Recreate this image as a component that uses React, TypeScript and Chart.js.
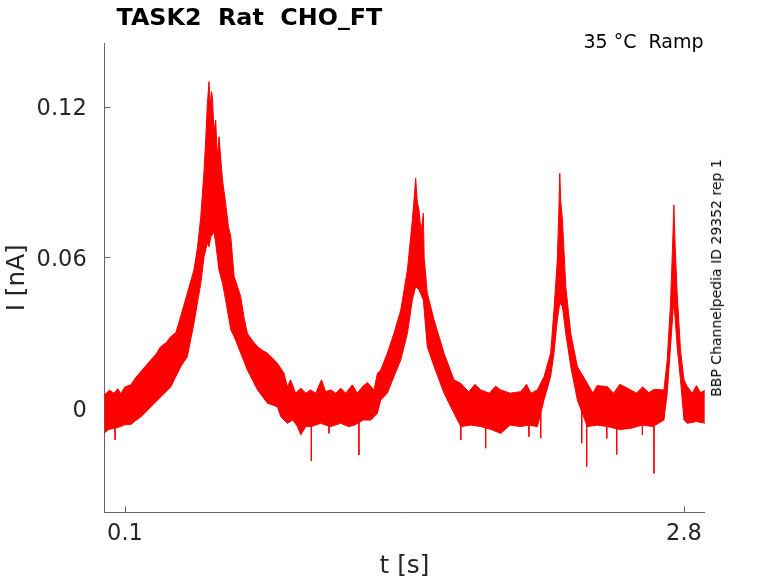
import { useEffect, useRef } from 'react';
import { Chart, registerables } from 'chart.js';

Chart.register(...registerables);

// axis ticks
const X_TICKS = [0.1, 2.8];
const Y_TICKS = [0, 0.06, 0.12];

// upper edge of the overlapping sweeps (t [s], I [nA])
const UPPER_T = [
  0.0, 0.025, 0.047, 0.065, 0.079, 0.1, 0.128, 0.15, 0.176, 0.2, 0.224, 0.25, 0.272, 0.3, 0.321, 0.345,
  0.369, 0.401, 0.433, 0.45, 0.466, 0.482, 0.49, 0.498, 0.506, 0.512, 0.518, 0.522, 0.53, 0.538, 0.546,
  0.554, 0.571, 0.586, 0.6, 0.611, 0.627, 0.645, 0.659, 0.675, 0.691, 0.715, 0.74, 0.765, 0.788, 0.812,
  0.836, 0.852, 0.868, 0.884, 0.9, 0.924, 0.949, 0.973, 0.997, 1.021, 1.049, 1.069, 1.094, 1.118, 1.142,
  1.166, 1.198, 1.222, 1.247, 1.271, 1.303, 1.319, 1.335, 1.367, 1.399, 1.432, 1.464, 1.488, 1.498,
  1.504, 1.512, 1.52, 1.53, 1.541, 1.545, 1.56, 1.593, 1.641, 1.689, 1.722, 1.76, 1.79, 1.818, 1.86,
  1.89, 1.915, 1.96, 2.011, 2.04, 2.06, 2.092, 2.124, 2.156, 2.172, 2.188, 2.196, 2.2, 2.205, 2.213,
  2.229, 2.253, 2.285, 2.333, 2.36, 2.38, 2.43, 2.46, 2.49, 2.543, 2.57, 2.6, 2.63, 2.655, 2.703, 2.719,
  2.735, 2.745, 2.751, 2.757, 2.767, 2.783, 2.8, 2.816, 2.84, 2.86, 2.88, 2.904,
];
const UPPER_I = [
  0.0053, 0.0072, 0.006, 0.0078, 0.0058, 0.0085, 0.0093, 0.012, 0.0146, 0.0168, 0.0192, 0.0215, 0.0245,
  0.0262, 0.0285, 0.03, 0.0365, 0.0458, 0.055, 0.064, 0.0762, 0.0948, 0.107, 0.1214, 0.13, 0.12, 0.126,
  0.124, 0.11, 0.1147, 0.1, 0.108, 0.0908, 0.0816, 0.072, 0.0683, 0.0524, 0.048, 0.0444, 0.036, 0.0298,
  0.027, 0.0245, 0.023, 0.0219, 0.02, 0.0179, 0.0159, 0.0139, 0.0086, 0.0113, 0.006, 0.008, 0.006,
  0.0073, 0.006, 0.0113, 0.0066, 0.0073, 0.006, 0.008, 0.006, 0.0093, 0.006, 0.0086, 0.0102, 0.0073,
  0.0139, 0.0152, 0.0219, 0.0298, 0.0391, 0.055, 0.0749, 0.085, 0.0915, 0.082, 0.0789, 0.07, 0.0776,
  0.06, 0.0458, 0.0351, 0.0219, 0.0113, 0.0099, 0.0065, 0.0095, 0.0073, 0.006, 0.0088, 0.0073, 0.006,
  0.0066, 0.0095, 0.006, 0.0073, 0.0126, 0.0219, 0.0391, 0.059, 0.08, 0.0935, 0.082, 0.0749, 0.0484,
  0.0298, 0.0166, 0.0099, 0.006, 0.009, 0.0086, 0.006, 0.0095, 0.0073, 0.006, 0.0085, 0.0062, 0.0075,
  0.0073, 0.0192, 0.0418, 0.065, 0.0809, 0.065, 0.0458, 0.0232, 0.0113, 0.0086, 0.006, 0.009, 0.0062,
  0.0073,
];

// lower edge of the overlapping sweeps
const LOWER_T = [
  0.0, 0.02, 0.047, 0.079, 0.1, 0.128, 0.15, 0.176, 0.224, 0.272, 0.321, 0.369, 0.401, 0.433, 0.466,
  0.482, 0.498, 0.506, 0.515, 0.53, 0.538, 0.554, 0.571, 0.586, 0.611, 0.627, 0.659, 0.691, 0.74, 0.788,
  0.836, 0.852, 0.884, 0.91, 0.933, 0.949, 0.973, 1.0, 1.045, 1.07, 1.094, 1.142, 1.18, 1.21, 1.25,
  1.287, 1.319, 1.335, 1.367, 1.399, 1.432, 1.464, 1.488, 1.504, 1.52, 1.541, 1.56, 1.593, 1.641, 1.689,
  1.722, 1.77, 1.818, 1.87, 1.915, 1.96, 2.011, 2.05, 2.092, 2.124, 2.156, 2.172, 2.188, 2.2, 2.213,
  2.229, 2.253, 2.285, 2.333, 2.38, 2.43, 2.49, 2.543, 2.6, 2.65, 2.703, 2.719, 2.735, 2.751, 2.767,
  2.783, 2.8, 2.816, 2.86, 2.904,
];
const LOWER_I = [
  -0.0099, -0.0085, -0.008, -0.0073, -0.0065, -0.0065, -0.005, -0.0035, 0.0005, 0.0045, 0.0085, 0.0165,
  0.0205, 0.0338, 0.0497, 0.0603, 0.0657, 0.0643, 0.0683, 0.07, 0.0657, 0.055, 0.0497, 0.0431, 0.0312,
  0.0285, 0.0219, 0.0152, 0.0073, 0.002, 0.0006, -0.0033, -0.006, -0.0047, -0.0073, -0.0106, -0.0073,
  -0.0073, -0.006, -0.0067, -0.0073, -0.006, -0.0073, -0.0067, -0.0047, -0.0047, -0.002, 0.0033, 0.006,
  0.0126, 0.0192, 0.0298, 0.0431, 0.0484, 0.0471, 0.0431, 0.0245, 0.0166, 0.006, -0.002, -0.0073,
  -0.0067, -0.0073, -0.0085, -0.01, -0.0067, -0.0073, -0.0067, -0.0073, 0.0033, 0.0126, 0.0219, 0.0351,
  0.0419, 0.0404, 0.0298, 0.0166, 0.0033, -0.0073, -0.0067, -0.0073, -0.0085, -0.008, -0.0067, -0.0073,
  -0.0047, 0.006, 0.0245, 0.0431, 0.0245, 0.0113, -0.0047, -0.006, -0.0053, -0.006,
];

// single downward glitches below the band
const SPIKE_T = [0.052, 1.0, 1.085, 1.23, 1.722, 1.842, 2.051, 2.108, 2.306, 2.33, 2.427, 2.475, 2.599, 2.655];
const SPIKE_I = [-0.0125, -0.021, -0.01, -0.0186, -0.0126, -0.0159, -0.0113, -0.0119, -0.0139, -0.0232, -0.012, -0.0184, -0.0106, -0.0259];

const FONT = "'DejaVu Sans', sans-serif";
const RED = '#ff0000';
const AXIS = '#666666';

const inwardTicks = {
  id: 'inwardTicks',
  beforeDatasetsDraw(chart: any) {
    const { ctx, chartArea, scales } = chart;
    ctx.save();
    ctx.strokeStyle = AXIS;
    ctx.lineWidth = 1;
    ctx.beginPath();
    X_TICKS.forEach((v) => {
      const x = Math.round(scales.x.getPixelForValue(v)) + 0.5;
      ctx.moveTo(x, chartArea.bottom);
      ctx.lineTo(x, chartArea.bottom - 6);
    });
    Y_TICKS.forEach((v) => {
      const y = Math.round(scales.y.getPixelForValue(v)) + 0.5;
      ctx.moveTo(chartArea.left, y);
      ctx.lineTo(chartArea.left + 6, y);
    });
    ctx.stroke();
    ctx.restore();
  },
};

export default function App() {
  const canvasRef = useRef<HTMLCanvasElement>(null);

  useEffect(() => {
    if (!canvasRef.current) return;
    // band outline: upper edge left to right, then lower edge back
    const band = [
      ...UPPER_T.map((t, i) => ({ x: t, y: UPPER_I[i] })),
      ...LOWER_T.map((t, i) => ({ x: t, y: LOWER_I[i] })).reverse(),
    ];
    const spikes: { x: number; y: number | null }[] = [];
    SPIKE_T.forEach((t, i) => {
      spikes.push({ x: t, y: 0 }, { x: t, y: SPIKE_I[i] }, { x: t, y: null });
    });

    const chart = new Chart(canvasRef.current, {
      type: 'line',
      data: {
        datasets: [
          {
            data: band,
            borderColor: RED,
            backgroundColor: RED,
            borderWidth: 1,
            pointRadius: 0,
            tension: 0,
            fill: 'shape',
          },
          {
            data: spikes,
            borderColor: RED,
            borderWidth: 1,
            pointRadius: 0,
            spanGaps: false,
            fill: false,
          },
        ],
      },
      options: {
        responsive: false,
        animation: false,
        layout: { padding: { top: 43.3, right: 73.3, left: 0, bottom: 0 } },
        plugins: { legend: { display: false }, tooltip: { enabled: false } },
        scales: {
          x: {
            type: 'linear',
            min: 0,
            max: 2.9,
            afterFit: (s: any) => { s.height = 70.7; },
            afterBuildTicks: (s: any) => { s.ticks = X_TICKS.map((v) => ({ value: v })); },
            grid: { display: false, drawTicks: false },
            border: { display: true, color: AXIS, width: 1 },
            ticks: {
              padding: 8,
              color: '#262626',
              font: { family: FONT, size: 22.5 },
              maxRotation: 0,
              callback: (v: any) => Number(v).toFixed(1),
            },
            title: {
              display: true,
              text: 't [s]',
              color: '#262626',
              font: { family: FONT, size: 24.75 },
              padding: { top: 0, bottom: 2 },
            },
          },
          y: {
            min: -0.0414,
            max: 0.1452,
            afterFit: (s: any) => { s.width = 104.3; },
            afterBuildTicks: (s: any) => { s.ticks = Y_TICKS.map((v) => ({ value: v })); },
            grid: { display: false, drawTicks: false },
            border: { display: true, color: AXIS, width: 1 },
            ticks: {
              padding: 17.6,
              labelOffset: 2.5,
              color: '#262626',
              font: { family: FONT, size: 22.5 },
              callback: (v: any) => (Number(v) === 0 ? '0' : Number(v).toFixed(2)),
            },
            title: {
              display: true,
              text: 'I [nA]',
              color: '#262626',
              font: { family: FONT, size: 24.75 },
              padding: { top: 3.2, bottom: 0 },
            },
          },
        },
      },
      plugins: [inwardTicks],
    });
    return () => chart.destroy();
  }, []);

  return (
    <div style={{ position: 'absolute', left: 0, top: 0, width: 778, height: 583, background: '#fff' }}>
      <canvas ref={canvasRef} width={778} height={583} style={{ position: 'absolute', left: 0, top: 0 }} />
      <div
        style={{
          position: 'absolute', left: 116.5, top: 6, fontFamily: FONT, fontWeight: 'bold',
          fontSize: 23.8, lineHeight: 1, color: '#000', whiteSpace: 'pre',
        }}
      >
        {'TASK2  Rat  CHO_FT'}
      </div>
      <div
        style={{
          position: 'absolute', right: 778 - 703.5, top: 31.6, fontFamily: FONT,
          fontSize: 19, lineHeight: 1, color: '#000', whiteSpace: 'pre',
        }}
      >
        {'35 °C  Ramp'}
      </div>
      <div
        style={{
          position: 'absolute', left: 716, top: 277.5, fontFamily: FONT, fontSize: 14,
          lineHeight: 1, color: '#000', whiteSpace: 'pre',
          transform: 'translate(-50%, -50%) rotate(-90deg)',
        }}
      >
        {'BBP Channelpedia ID 29352 rep 1'}
      </div>
    </div>
  );
}
